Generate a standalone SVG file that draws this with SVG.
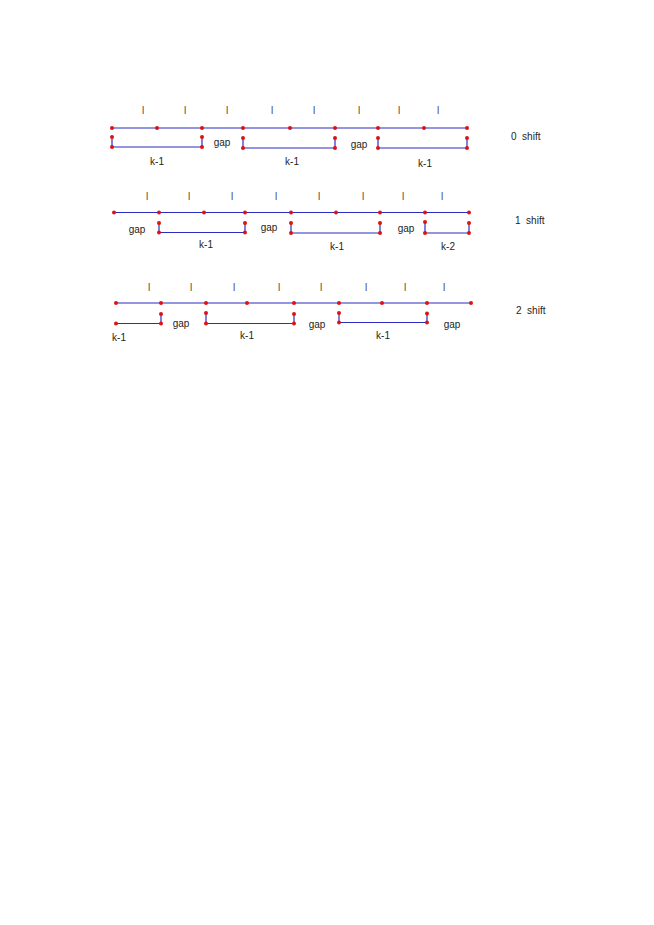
<svg xmlns="http://www.w3.org/2000/svg" width="654" height="925" viewBox="0 0 654 925">
<style>
text{font-family:"Liberation Sans",Arial,sans-serif;font-size:10px;fill:#222;white-space:pre}
.m{text-anchor:middle}
.t{fill:#444}
.g{opacity:0.99}
line{stroke:#2c2cc0;stroke-width:1.2}
circle{fill:#e01010}
</style>
<rect width="654" height="925" fill="#fff"/>
<g id="connectors">
<!-- row 0 -->
<line x1="112" y1="128" x2="467" y2="128"/>
<line x1="112" y1="137" x2="112" y2="147"/><line x1="112" y1="147" x2="202" y2="147"/><line x1="202" y1="137" x2="202" y2="147"/>
<line x1="243" y1="138" x2="243" y2="148"/><line x1="243" y1="148" x2="335" y2="148"/><line x1="335" y1="138" x2="335" y2="148"/>
<line x1="378" y1="138" x2="378" y2="148"/><line x1="378" y1="148" x2="467" y2="148"/><line x1="467" y1="138" x2="467" y2="148"/>
<!-- row 1 -->
<line x1="114" y1="212.5" x2="469" y2="212.5"/>
<line x1="159" y1="223" x2="159" y2="232.5"/><line x1="159" y1="232.5" x2="245" y2="232.5"/><line x1="245" y1="223" x2="245" y2="232.5"/>
<line x1="291" y1="223" x2="291" y2="233"/><line x1="291" y1="233" x2="380" y2="233"/><line x1="380" y1="223" x2="380" y2="233"/>
<line x1="425" y1="222" x2="425" y2="233"/><line x1="425" y1="233" x2="469" y2="233"/><line x1="469" y1="223" x2="469" y2="233"/>
<!-- row 2 -->
<line x1="116" y1="303" x2="471" y2="303"/>
<line x1="116" y1="323.5" x2="161" y2="323.5"/><line x1="161" y1="314" x2="161" y2="323.5"/>
<line x1="206" y1="313" x2="206" y2="323.5"/><line x1="206" y1="323.5" x2="294" y2="323.5"/><line x1="294" y1="314" x2="294" y2="323.5"/>
<line x1="339" y1="313" x2="339" y2="322.5"/><line x1="339" y1="322.5" x2="427" y2="322.5"/><line x1="427" y1="313.5" x2="427" y2="322.5"/>
</g>
<g id="row0" class="g">
<text class="m t" x="143" y="114">l</text><text class="m t" x="185" y="114">l</text><text class="m t" x="227" y="114">l</text><text class="m t" x="272" y="114">l</text>
<text class="m t" x="314" y="114">l</text><text class="m t" x="359" y="114">l</text><text class="m t" x="399" y="114">l</text><text class="m t" x="438" y="114">l</text>
<circle cx="112" cy="128" r="2"/><circle cx="157" cy="128" r="2"/><circle cx="202" cy="128" r="2"/><circle cx="243" cy="128" r="2"/><circle cx="290" cy="128" r="2"/><circle cx="335" cy="128" r="2"/><circle cx="378" cy="128" r="2"/><circle cx="424" cy="128" r="2"/><circle cx="467" cy="128" r="2"/>
<circle cx="112" cy="137" r="2"/><circle cx="112" cy="147" r="2"/><circle cx="202" cy="137" r="2"/><circle cx="202" cy="147" r="2"/>
<circle cx="243" cy="138" r="2"/><circle cx="243" cy="148" r="2"/><circle cx="335" cy="138" r="2"/><circle cx="335" cy="148" r="2"/>
<circle cx="378" cy="138" r="2"/><circle cx="378" cy="148" r="2"/><circle cx="467" cy="138" r="2"/><circle cx="467" cy="148" r="2"/>
<text class="m" x="157" y="165">k-1</text><text class="m" x="222" y="145.5">gap</text>
<text class="m" x="292" y="164.5">k-1</text><text class="m" x="359" y="148">gap</text>
<text class="m" x="425" y="166.5">k-1</text>
<text x="511" y="139.5">0  shift</text>
</g>
<g id="row1" class="g">
<text class="m t" x="147" y="199.5">l</text><text class="m t" x="189" y="199.5">l</text><text class="m t" x="232" y="199.5">l</text><text class="m t" x="276" y="199.5">l</text>
<text class="m t" x="319" y="199.5">l</text><text class="m t" x="363" y="199.5">l</text><text class="m t" x="403" y="199.5">l</text><text class="m t" x="442" y="199.5">l</text>
<circle cx="114" cy="212.5" r="2"/><circle cx="159" cy="212.5" r="2"/><circle cx="204" cy="212.5" r="2"/><circle cx="245" cy="212.5" r="2"/><circle cx="291" cy="212.5" r="2"/><circle cx="336" cy="212.5" r="2"/><circle cx="380" cy="212.5" r="2"/><circle cx="425" cy="212.5" r="2"/><circle cx="469" cy="212.5" r="2"/>
<circle cx="159" cy="223" r="2"/><circle cx="159" cy="232.5" r="2"/><circle cx="245" cy="223" r="2"/><circle cx="245" cy="232.5" r="2"/>
<circle cx="291" cy="223" r="2"/><circle cx="291" cy="233" r="2"/><circle cx="380" cy="223" r="2"/><circle cx="380" cy="233" r="2"/>
<circle cx="425" cy="222" r="2"/><circle cx="425" cy="233" r="2"/><circle cx="469" cy="223" r="2"/><circle cx="469" cy="233" r="2"/>
<text class="m" x="137" y="233">gap</text><text class="m" x="206" y="248">k-1</text>
<text class="m" x="269" y="230.5">gap</text><text class="m" x="337" y="250">k-1</text>
<text class="m" x="406" y="231.5">gap</text><text class="m" x="448" y="250">k-2</text>
<text x="515" y="223.5">1  shift</text>
</g>
<g id="row2" class="g">
<text class="m t" x="149" y="291">l</text><text class="m t" x="191" y="291">l</text><text class="m t" x="234" y="291">l</text><text class="m t" x="279" y="291">l</text>
<text class="m t" x="321" y="291">l</text><text class="m t" x="366" y="291">l</text><text class="m t" x="405" y="291">l</text><text class="m t" x="444" y="291">l</text>
<circle cx="116" cy="303" r="2"/><circle cx="161" cy="303" r="2"/><circle cx="206" cy="303" r="2"/><circle cx="247" cy="303" r="2"/><circle cx="294" cy="303" r="2"/><circle cx="339" cy="303" r="2"/><circle cx="382" cy="303" r="2"/><circle cx="427" cy="303" r="2"/><circle cx="471" cy="303" r="2"/>
<circle cx="116" cy="323.5" r="2"/><circle cx="161" cy="314" r="2"/><circle cx="161" cy="323.5" r="2"/>
<circle cx="206" cy="313" r="2"/><circle cx="206" cy="323.5" r="2"/><circle cx="294" cy="314" r="2"/><circle cx="294" cy="323.5" r="2"/>
<circle cx="339" cy="313" r="2"/><circle cx="339" cy="322.5" r="2"/><circle cx="427" cy="313.5" r="2"/><circle cx="427" cy="322.5" r="2"/>
<text class="m" x="119" y="341">k-1</text><text class="m" x="181" y="326.5">gap</text>
<text class="m" x="247" y="339">k-1</text><text class="m" x="317" y="328">gap</text>
<text class="m" x="383" y="338.5">k-1</text><text class="m" x="452" y="328">gap</text>
<text x="516" y="314">2  shift</text>
</g>
</svg>
